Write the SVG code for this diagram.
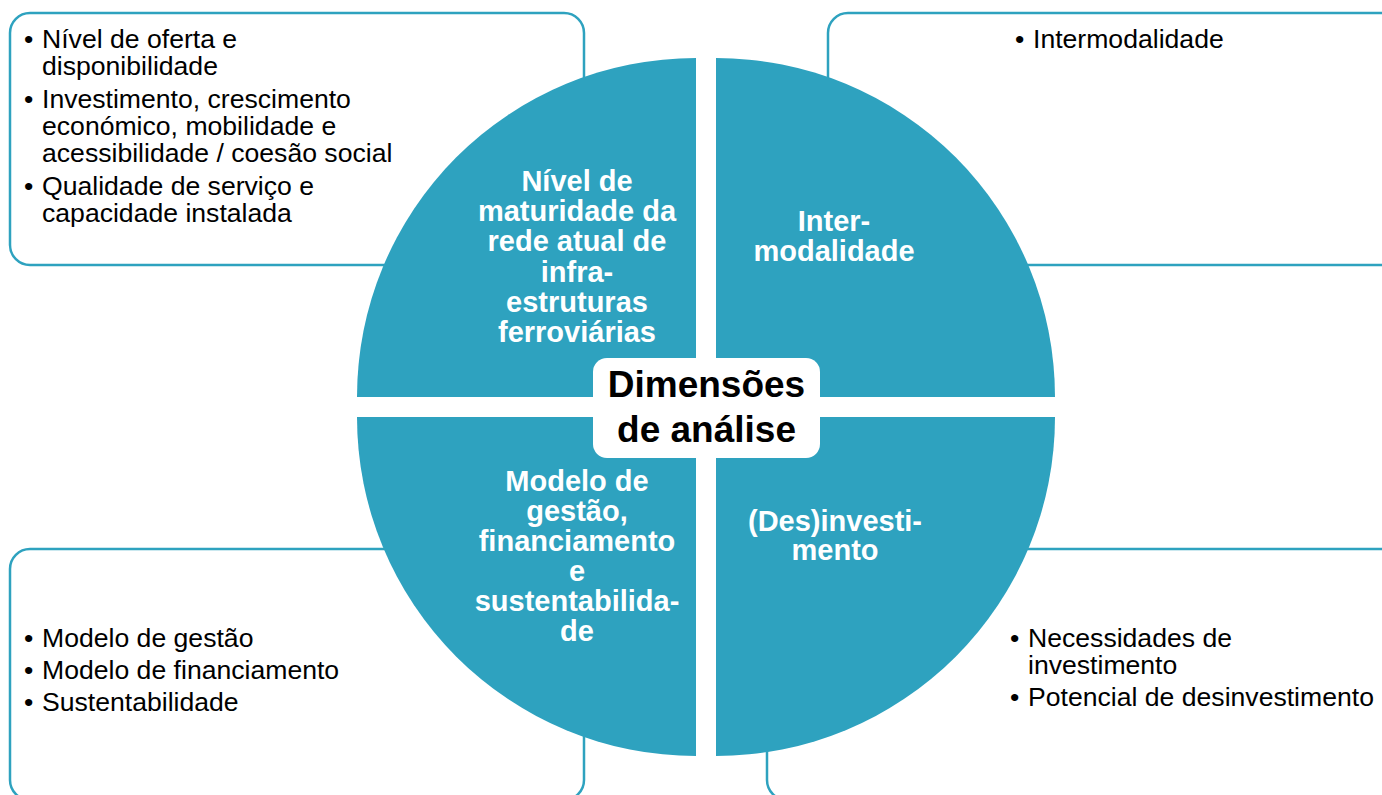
<svg xmlns="http://www.w3.org/2000/svg" width="1382" height="795" viewBox="0 0 1382 795">
<style>
.box{fill:#ffffff;stroke:#2ea2bf;stroke-width:2.5}
.quad{fill:#2ea2bf}
.qt{font-family:"Liberation Sans",Arial,sans-serif;font-weight:bold;font-size:29px;fill:#ffffff;text-anchor:middle}
.bt{font-family:"Liberation Sans",Arial,sans-serif;font-size:26.6px;fill:#000000}
.ct{font-family:"Liberation Sans",Arial,sans-serif;font-weight:bold;font-size:37px;fill:#000000;text-anchor:middle}
</style>
<rect width="1382" height="795" fill="#ffffff"/>
<g id="box-top-left">
<rect class="box" x="10" y="13" width="574" height="252" rx="20"/>
<text class="bt"><tspan x="24" y="48">•</tspan><tspan x="42" y="48">Nível de oferta e</tspan><tspan x="42" y="75">disponibilidade</tspan><tspan x="24" y="108">•</tspan><tspan x="42" y="108">Investimento, crescimento</tspan><tspan x="42" y="135">económico, mobilidade e</tspan><tspan x="42" y="162">acessibilidade / coesão social</tspan><tspan x="24" y="195">•</tspan><tspan x="42" y="195">Qualidade de serviço e</tspan><tspan x="42" y="222">capacidade instalada</tspan></text>
</g>
<g id="box-top-right">
<rect class="box" x="828" y="13" width="600" height="252" rx="20"/>
<text class="bt"><tspan x="1015" y="48">•</tspan><tspan x="1033" y="48">Intermodalidade</tspan></text>
</g>
<g id="box-bottom-left">
<rect class="box" x="10" y="549" width="574" height="251" rx="20"/>
<text class="bt"><tspan x="24" y="647">•</tspan><tspan x="42" y="647">Modelo de gestão</tspan><tspan x="24" y="679">•</tspan><tspan x="42" y="679">Modelo de financiamento</tspan><tspan x="24" y="711">•</tspan><tspan x="42" y="711">Sustentabilidade</tspan></text>
</g>
<g id="box-bottom-right">
<rect class="box" x="767" y="549" width="660" height="251" rx="20"/>
<text class="bt"><tspan x="1010" y="647">•</tspan><tspan x="1028" y="647">Necessidades de</tspan><tspan x="1028" y="674">investimento</tspan><tspan x="1010" y="706">•</tspan><tspan x="1028" y="706">Potencial de desinvestimento</tspan></text>
</g>
<g id="quad-top-left">
<path class="quad" d="M696,397 L357,397 A339,339 0 0 1 696,58 Z"/>
<text class="qt"><tspan x="577" y="191">Nível de</tspan><tspan x="577" y="221">maturidade da</tspan><tspan x="577" y="251">rede atual de</tspan><tspan x="577" y="282">infra-</tspan><tspan x="577" y="312">estruturas</tspan><tspan x="577" y="342">ferroviárias</tspan></text>
</g>
<g id="quad-top-right">
<path class="quad" d="M716,397 L716,58 A339,339 0 0 1 1055,397 Z"/>
<text class="qt"><tspan x="834" y="231">Inter-</tspan><tspan x="834" y="261">modalidade</tspan></text>
</g>
<g id="quad-bottom-right">
<path class="quad" d="M716,417 L1055,417 A339,339 0 0 1 716,756 Z"/>
<text class="qt"><tspan x="835" y="531">(Des)investi-</tspan><tspan x="835" y="560">mento</tspan></text>
</g>
<g id="quad-bottom-left">
<path class="quad" d="M696,417 L696,756 A339,339 0 0 1 357,417 Z"/>
<text class="qt"><tspan x="577" y="491">Modelo de</tspan><tspan x="577" y="521">gestão,</tspan><tspan x="577" y="551">financiamento</tspan><tspan x="577" y="581">e</tspan><tspan x="577" y="611">sustentabilida-</tspan><tspan x="577" y="641">de</tspan></text>
</g>
<g id="center">
<rect x="593" y="358" width="227" height="100" rx="14" fill="#ffffff"/>
<text class="ct"><tspan x="706.5" y="397">Dimensões</tspan><tspan x="706.5" y="442">de análise</tspan></text>
</g>
</svg>
